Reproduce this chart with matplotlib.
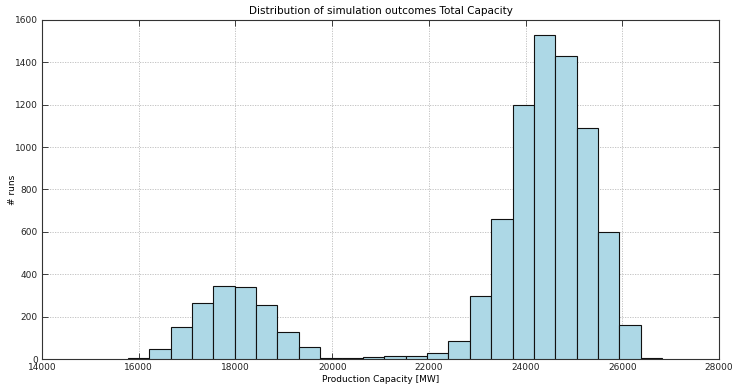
import numpy as np
import matplotlib
matplotlib.use("Agg")
import matplotlib.pyplot as plt

# Data
capacity_min = 15775
capacity_max = 26825
counts = [5, 46, 151, 264, 344, 340, 255, 126, 58, 3, 7, 8, 16, 16, 27, 84,
          295, 660, 1199, 1531, 1432, 1088, 597, 160, 5]
x_ticks = [14000, 16000, 18000, 20000, 22000, 24000, 26000, 28000]
y_ticks = [0, 200, 400, 600, 800, 1000, 1200, 1400, 1600]

edges = np.linspace(capacity_min, capacity_max, len(counts) + 1)
centers = (edges[:-1] + edges[1:]) / 2

fig = plt.figure(figsize=(7.33, 3.84), dpi=100)
ax = fig.add_axes([0.0573, 0.0651, 0.9237, 0.8829])

ax.hist(centers, bins=edges, weights=counts, color='lightblue',
        edgecolor='#111111', linewidth=0.8, zorder=3)

ax.set_xlim(14000, 28000)
ax.set_ylim(0, 1600)
ax.set_xticks(x_ticks)
ax.set_yticks(y_ticks)
ax.tick_params(direction='in', top=True, right=True, labelsize=6.5,
               length=4, width=0.6, pad=3, colors='#222222')
ax.grid(True, linestyle=(0, (1.5, 1.5)), color='#bbbbbb', linewidth=0.6, zorder=0)
for s in ax.spines.values():
    s.set_linewidth(0.8)
    s.set_color('#333333')

ax.set_title('Distribution of simulation outcomes Total Capacity', fontsize=7.5, pad=4)
ax.set_xlabel('Production Capacity [MW]', fontsize=6.5, labelpad=2)
ax.set_ylabel('# runs', fontsize=6.5)
ax.yaxis.set_label_coords(-0.037, 0.5)

fig.savefig('out.png', dpi=100)
